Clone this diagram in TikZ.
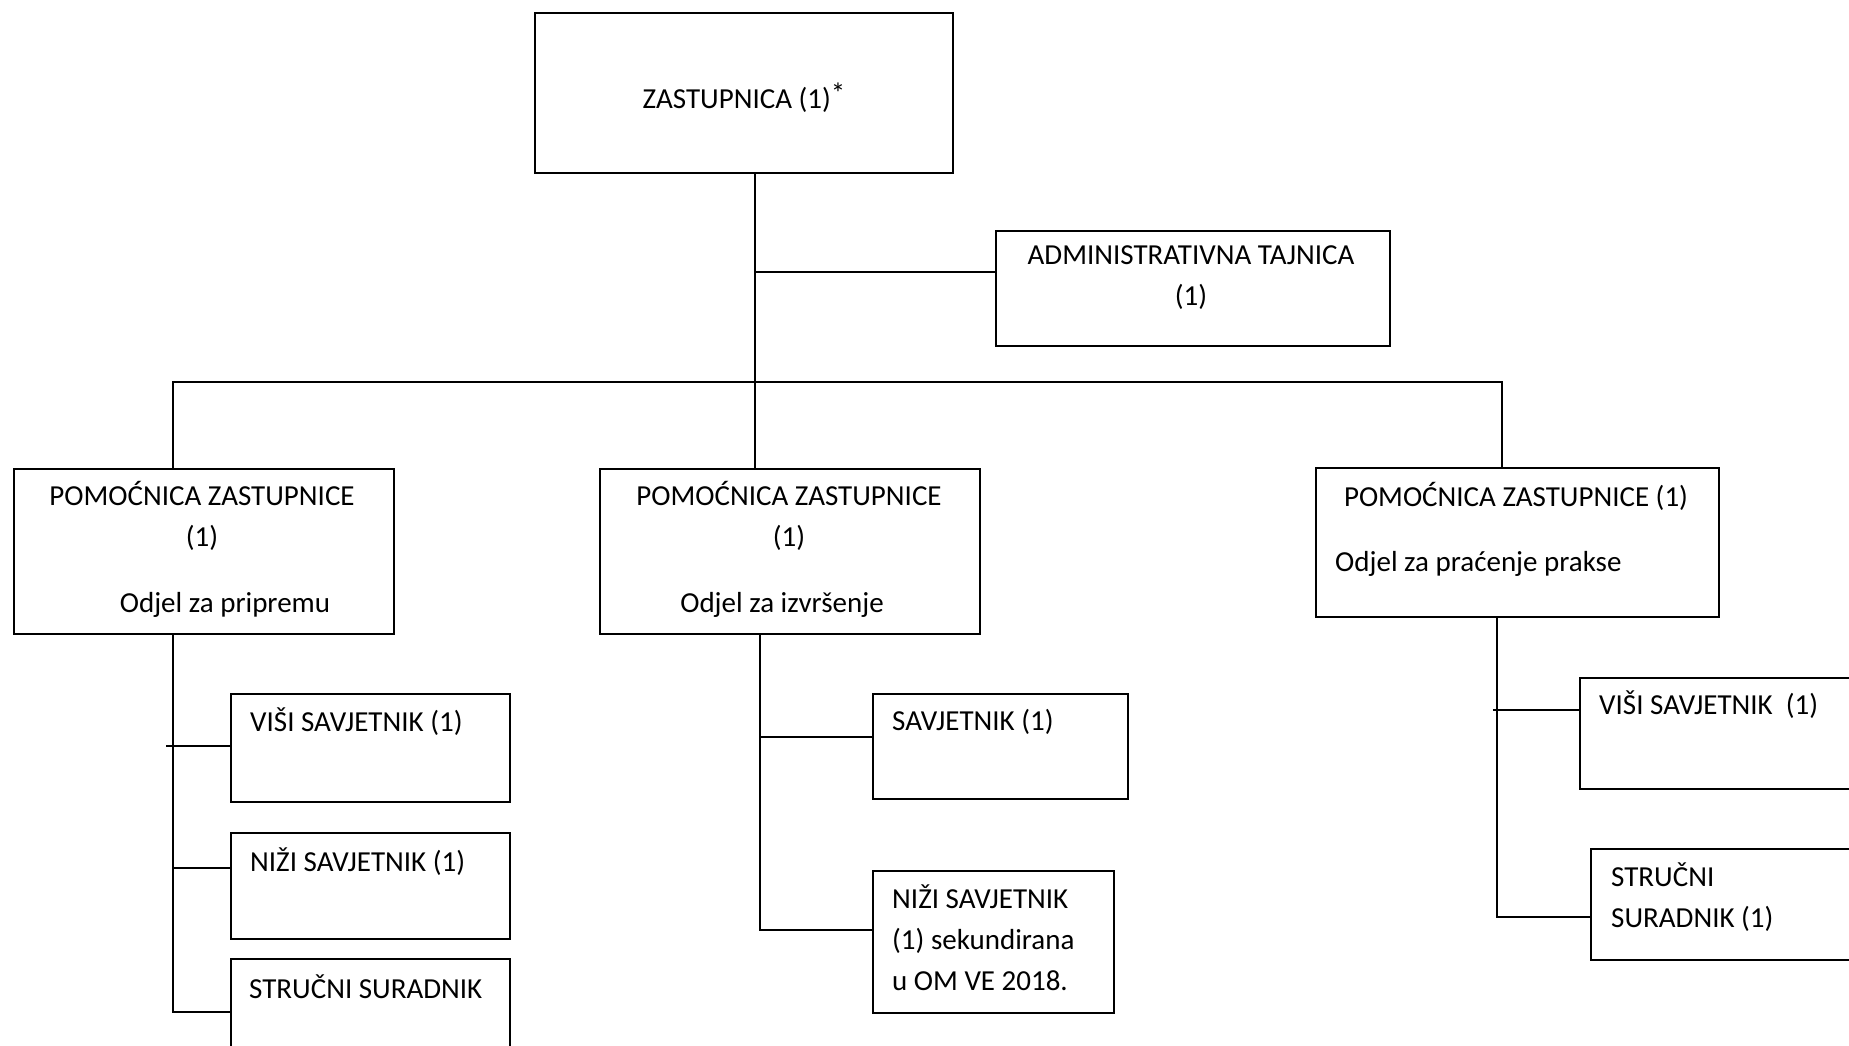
\documentclass[tikz,border=0pt]{standalone}
\usepackage{fontspec}
\setmainfont{Carlito}
\newcommand{\orgfont}{\fontsize{29}{41}\selectfont}

\tikzset{
  box/.style={draw, line width=2pt, inner sep=0pt, anchor=north west},
  lbl/.style={inner sep=0pt, font=\orgfont},
  link/.style={line width=2pt},
}

\begin{document}
\begin{tikzpicture}[x={(1pt,0)}, y={(0,-1pt)}]
  \useasboundingbox (0,0) rectangle (1849,1046);
  \clip (0,0) rectangle (1849,1046);

  % top level
  \node[box, minimum width=418pt, minimum height=160pt] (top) at (534,12) {};
  \node[lbl] (toptxt) at (744,98) {ZASTUPNICA (1)\raisebox{5pt}{*}};

  \node[box, minimum width=394pt, minimum height=115pt] (admin) at (995,230) {};
  \node[lbl, align=center] (admintxt) at (1191,278) {ADMINISTRATIVNA TAJNICA\\(1)};

  % odjeli
  \node[box, minimum width=380pt, minimum height=165pt] (left) at (13,468) {};
  \node[lbl, align=center] (lefttxt) at (202,516) {POMOĆNICA ZASTUPNICE\\(1)};
  \node[lbl] (leftodj) at (225,605) {Odjel za pripremu};

  \node[box, minimum width=380pt, minimum height=165pt] (mid) at (599,468) {};
  \node[lbl, align=center] (midtxt) at (789,516) {POMOĆNICA ZASTUPNICE\\(1)};
  \node[lbl] (midodj) at (782,605) {Odjel za izvršenje};

  \node[box, minimum width=403pt, minimum height=149pt] (right) at (1315,467) {};
  \node[lbl] (righttxt) at (1516,496) {POMOĆNICA ZASTUPNICE (1)};
  \node[lbl, anchor=west] (rightodj) at (1335,564) {Odjel za praćenje prakse};

  % savjetnici
  \node[box, minimum width=279pt, minimum height=108pt] (lvisi) at (230,693) {};
  \node[lbl, anchor=west] (lvisitxt) at (250,722) {VIŠI SAVJETNIK (1)};
  \node[box, minimum width=279pt, minimum height=106pt] (lnizi) at (230,832) {};
  \node[lbl, anchor=west] (lnizitxt) at (250,862) {NIŽI SAVJETNIK (1)};
  \node[box, minimum width=279pt, minimum height=200pt] (lstr) at (230,958) {};
  \node[lbl, anchor=west] (lstrtxt) at (249,987) {STRUČNI SURADNIK};

  \node[box, minimum width=255pt, minimum height=105pt] (msav) at (872,693) {};
  \node[lbl, anchor=west] (msavtxt) at (892,722) {SAVJETNIK (1)};
  \node[box, minimum width=241pt, minimum height=142pt] (mnizi) at (872,870) {};
  \node[lbl, anchor=west, align=left] (mnizitxt) at (892,938) {NIŽI SAVJETNIK\\(1) sekundirana\\u OM VE 2018.};

  \node[box, minimum width=400pt, minimum height=111pt] (rvisi) at (1579,677) {};
  \node[lbl, anchor=west] (rvisitxt) at (1599,705) {VIŠI SAVJETNIK~~(1)};
  \node[box, minimum width=400pt, minimum height=111pt] (rstr) at (1590,848) {};
  \node[lbl, anchor=west, align=left] (rstrtxt) at (1611,897) {STRUČNI\\SURADNIK (1)};

  % veze
  \coordinate (spine) at (755,382);
  \coordinate (adm) at (755,272);
  \coordinate (busL) at (173,382);
  \coordinate (busR) at (1502,382);
  \draw[link] (spine |- top.south) -- (spine |- mid.north);
  \draw[link] (adm) -- (adm -| admin.west);
  \draw[link] (busL |- left.north) -- (busL) -- (busR) -- (busR |- right.north);

  \coordinate (lj1) at (166,746);
  \coordinate (lj2) at (173,868);
  \coordinate (lj3) at (173,1012);
  \draw[link] (lj3 |- left.south) -- (lj3) -- (lj3 -| lstr.west);
  \draw[link] (lj1) -- (lj1 -| lvisi.west);
  \draw[link] (lj2) -- (lj2 -| lnizi.west);

  \coordinate (mj1) at (760,737);
  \coordinate (mj2) at (760,930);
  \draw[link] (mj2 |- mid.south) -- (mj2) -- (mj2 -| mnizi.west);
  \draw[link] (mj1) -- (mj1 -| msav.west);

  \coordinate (rj1) at (1493,710);
  \coordinate (rj2) at (1497,917);
  \draw[link] (rj2 |- right.south) -- (rj2) -- (rj2 -| rstr.west);
  \draw[link] (rj1) -- (rj1 -| rvisi.west);
\end{tikzpicture}
\end{document}
